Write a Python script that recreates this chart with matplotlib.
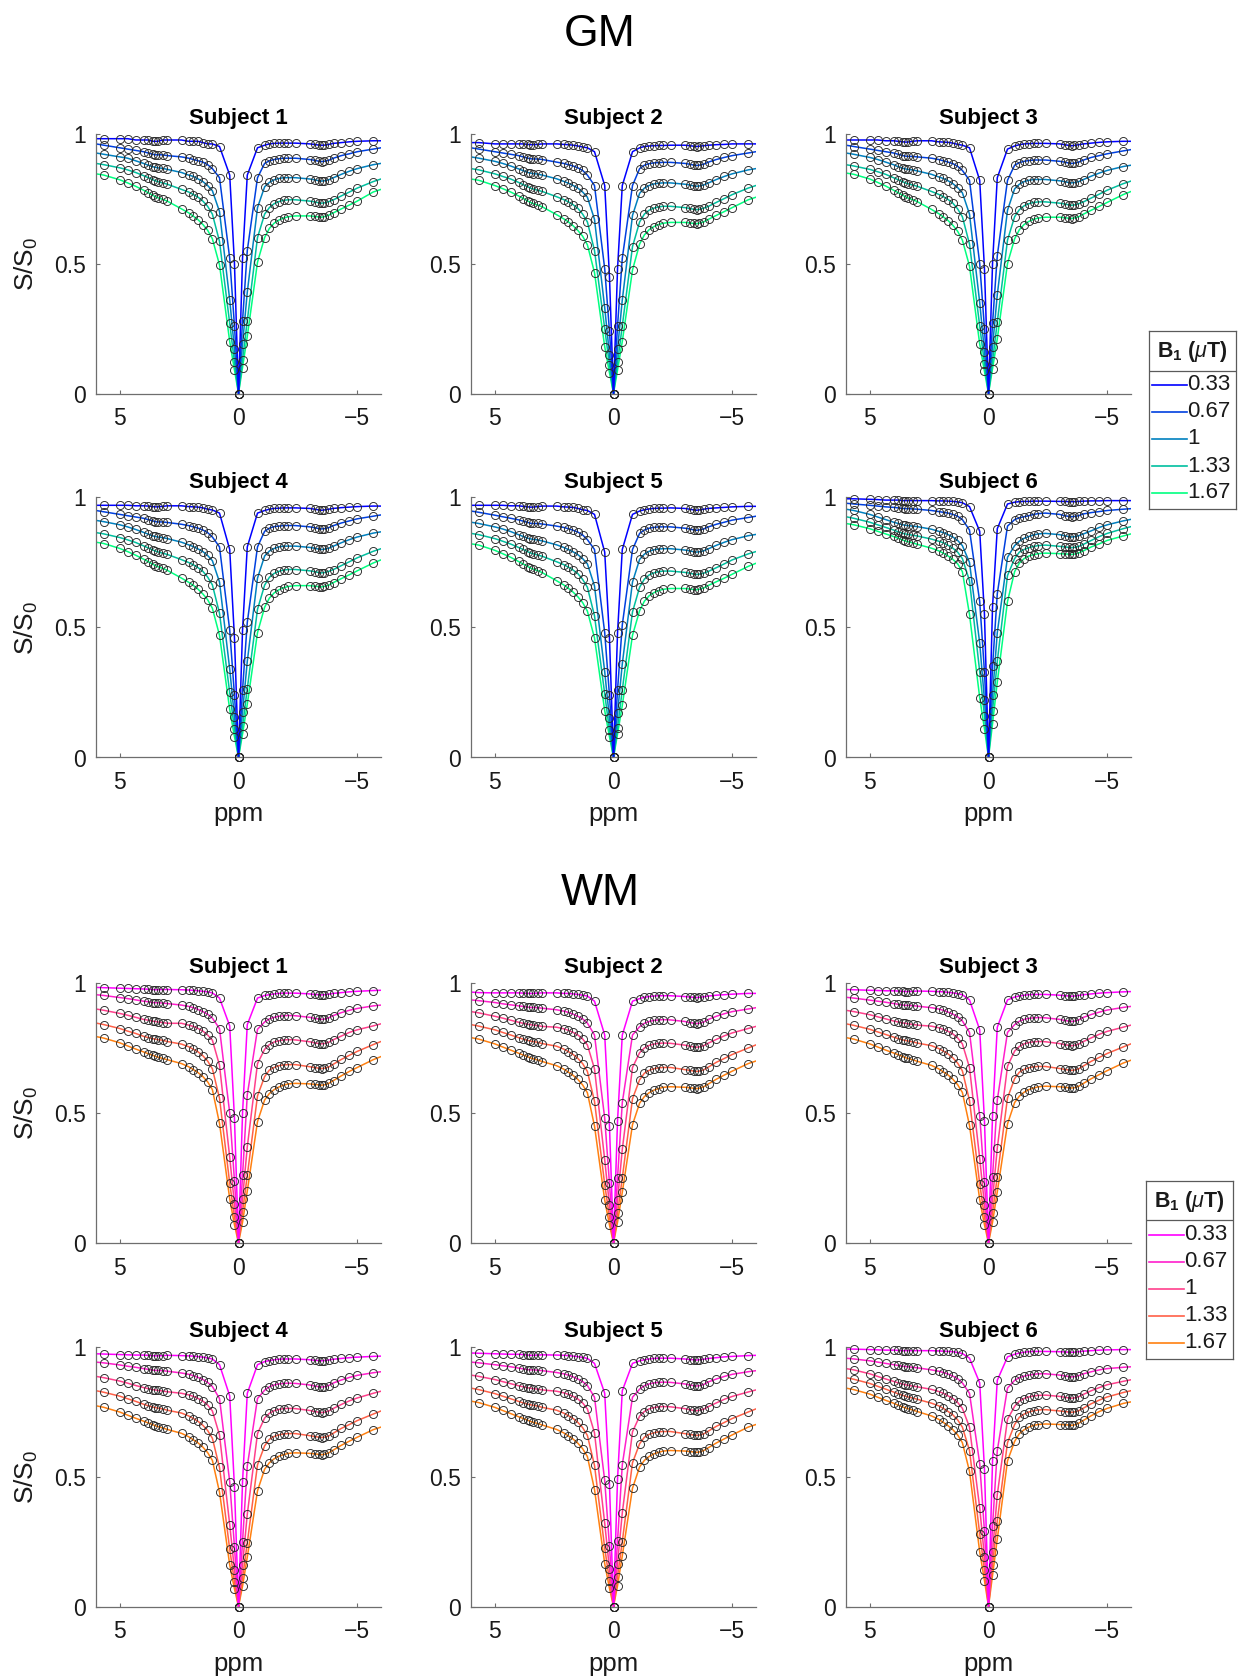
import matplotlib
matplotlib.use("Agg")
import matplotlib.pyplot as plt
import numpy as np

plt.rcParams['font.family'] = ['Liberation Sans', 'DejaVu Sans']
plt.rcParams['mathtext.fontset'] = 'custom'
plt.rcParams['mathtext.rm'] = 'Liberation Sans'
plt.rcParams['mathtext.it'] = 'Liberation Sans:italic'
plt.rcParams['mathtext.bf'] = 'Liberation Sans:bold'

# ---------------- data ----------------
# saturation offsets (ppm); the +/-6 entries are fit-only (no measured point)
OFFSETS_PPM = [6.0, 5.67, 5.0, 4.67, 4.33,
               4.0, 3.8, 3.6, 3.5, 3.4, 3.2, 3.0,
               2.4, 2.1, 1.9, 1.7, 1.5, 1.3, 1.1,
               0.8, 0.37, 0.17, 0.0, -0.17, -0.37, -0.8,
               -1.1, -1.3, -1.5, -1.7, -1.9, -2.1, -2.4,
               -3.0, -3.2, -3.4, -3.5, -3.6, -3.8, -4.0,
               -4.33, -4.67, -5.0, -5.67, -6.0]
B1_LEVELS = ['0.33', '0.67', '1', '1.33', '1.67']
SUBJECTS = ['Subject 1', 'Subject 2', 'Subject 3', 'Subject 4', 'Subject 5', 'Subject 6']
TISSUES = ['GM', 'WM']
X_TICKS = [5, 0, -5]
X_TICK_LABELS = ['5', '0', '\u22125']
Y_TICKS = [0, 0.5, 1]
Y_TICK_LABELS = ['0', '0.5', '1']

# S/S0, one row per B1 level (0.33, 0.67, 1, 1.33, 1.67 uT)
GM_S1 = [
    [.98, .98, .98, .98, .975, .975, .975, .97, .97, .97, .975, .975, .975, .97, .97, .97, .965, .96, .96, .95, .84, .50, 0, .52, .84, .945, .955, .96, .962, .963, .963, .963, .963, .96, .958, .955, .955, .955, .958, .962, .965, .968, .97, .972, .972],
    [.96, .955, .945, .94, .935, .93, .925, .92, .918, .918, .918, .915, .91, .905, .90, .895, .89, .88, .865, .83, .52, .26, 0, .28, .55, .83, .885, .895, .90, .903, .905, .905, .905, .90, .897, .893, .892, .893, .897, .905, .915, .922, .93, .94, .945],
    [.925, .92, .91, .905, .895, .885, .878, .872, .87, .868, .866, .862, .85, .84, .835, .825, .815, .80, .78, .70, .36, .17, 0, .19, .39, .715, .795, .812, .822, .827, .83, .83, .83, .825, .822, .818, .817, .818, .822, .83, .843, .855, .865, .88, .885],
    [.885, .88, .868, .86, .85, .838, .83, .822, .818, .815, .81, .805, .785, .775, .765, .755, .74, .72, .69, .585, .27, .12, 0, .13, .28, .60, .69, .715, .73, .738, .743, .745, .745, .74, .737, .733, .732, .733, .738, .745, .76, .775, .79, .815, .825],
    [.845, .84, .822, .81, .797, .782, .772, .762, .757, .753, .747, .74, .71, .695, .682, .668, .65, .628, .595, .495, .20, .09, 0, .10, .22, .505, .60, .635, .655, .667, .675, .68, .683, .683, .681, .679, .678, .68, .686, .695, .71, .725, .74, .775, .785],
]
GM_S2 = [
    [.965, .965, .96, .96, .96, .96, .96, .958, .957, .957, .958, .96, .96, .958, .957, .955, .952, .948, .945, .93, .80, .45, 0, .48, .80, .93, .945, .95, .952, .953, .954, .954, .955, .955, .953, .951, .95, .951, .953, .955, .957, .958, .96, .96, .96],
    [.945, .94, .93, .925, .92, .915, .91, .905, .903, .902, .902, .90, .89, .885, .88, .875, .868, .858, .84, .80, .48, .24, 0, .26, .52, .80, .865, .878, .884, .887, .888, .889, .889, .885, .882, .878, .877, .878, .882, .89, .90, .908, .915, .925, .93],
    [.91, .905, .893, .885, .875, .864, .857, .85, .848, .846, .844, .84, .826, .816, .809, .80, .79, .775, .755, .67, .33, .15, 0, .17, .36, .685, .77, .79, .80, .806, .809, .81, .81, .805, .802, .798, .797, .798, .802, .81, .823, .835, .845, .86, .865],
    [.865, .86, .845, .835, .825, .812, .803, .795, .79, .787, .782, .777, .757, .746, .737, .726, .712, .69, .66, .55, .25, .11, 0, .12, .26, .565, .66, .69, .705, .713, .718, .72, .72, .715, .712, .708, .707, .708, .713, .72, .735, .75, .765, .79, .80],
    [.825, .82, .80, .788, .775, .76, .75, .74, .735, .731, .725, .718, .688, .672, .66, .645, .627, .605, .572, .465, .18, .08, 0, .09, .20, .475, .575, .61, .63, .642, .65, .655, .658, .658, .656, .654, .653, .655, .66, .67, .685, .70, .715, .745, .755],
]
GM_S3 = [
    [.975, .975, .975, .975, .972, .972, .97, .968, .967, .967, .97, .972, .972, .968, .967, .966, .963, .958, .955, .945, .82, .48, 0, .50, .83, .94, .952, .957, .96, .961, .962, .962, .962, .96, .957, .954, .953, .954, .957, .96, .963, .966, .968, .97, .97],
    [.955, .95, .94, .935, .93, .925, .92, .915, .913, .912, .912, .91, .905, .90, .895, .89, .884, .874, .858, .82, .50, .25, 0, .27, .53, .82, .878, .888, .893, .896, .898, .898, .898, .893, .89, .886, .885, .886, .89, .898, .908, .915, .922, .933, .938],
    [.925, .92, .908, .90, .89, .88, .872, .866, .864, .862, .86, .856, .843, .833, .827, .818, .807, .792, .772, .69, .35, .16, 0, .18, .38, .705, .787, .805, .815, .82, .823, .823, .823, .818, .815, .811, .81, .811, .815, .823, .836, .848, .858, .873, .878],
    [.88, .875, .862, .853, .843, .83, .822, .814, .81, .807, .802, .797, .777, .766, .757, .746, .732, .71, .68, .575, .26, .115, 0, .125, .275, .59, .68, .707, .722, .73, .735, .737, .737, .732, .729, .725, .724, .725, .73, .737, .752, .767, .782, .807, .817],
    [.848, .843, .825, .812, .798, .782, .772, .762, .757, .752, .746, .738, .708, .692, .679, .665, .647, .624, .59, .49, .19, .085, 0, .095, .21, .50, .595, .63, .65, .662, .67, .675, .678, .678, .676, .674, .673, .675, .68, .69, .705, .72, .735, .765, .777],
]
GM_S4 = [
    [.97, .97, .97, .97, .968, .968, .967, .965, .964, .964, .966, .968, .968, .965, .964, .963, .96, .955, .952, .94, .80, .46, 0, .49, .81, .94, .95, .955, .958, .959, .96, .96, .96, .958, .955, .952, .951, .952, .955, .958, .961, .963, .965, .967, .967],
    [.95, .945, .935, .93, .925, .92, .915, .91, .907, .906, .906, .904, .897, .892, .887, .882, .875, .865, .848, .81, .49, .24, 0, .26, .52, .81, .87, .882, .888, .89, .892, .892, .892, .887, .884, .88, .879, .88, .884, .892, .902, .91, .918, .928, .933],
    [.912, .907, .895, .887, .877, .866, .859, .852, .85, .848, .846, .842, .828, .818, .811, .802, .792, .777, .757, .675, .34, .155, 0, .175, .37, .69, .775, .794, .804, .81, .813, .813, .813, .808, .805, .801, .80, .801, .805, .813, .826, .838, .848, .863, .868],
    [.865, .86, .846, .837, .827, .814, .806, .798, .794, .791, .786, .781, .761, .75, .741, .73, .716, .694, .664, .555, .25, .11, 0, .12, .265, .57, .663, .693, .708, .716, .721, .723, .723, .718, .715, .711, .71, .711, .716, .723, .738, .753, .768, .793, .803],
    [.828, .823, .804, .792, .778, .763, .753, .743, .738, .734, .728, .72, .69, .674, .662, .647, .629, .607, .574, .47, .185, .08, 0, .09, .205, .48, .578, .613, .633, .645, .653, .658, .661, .661, .659, .657, .656, .658, .663, .673, .688, .703, .718, .748, .76],
]
GM_S5 = [
    [.97, .97, .97, .97, .968, .968, .966, .964, .963, .963, .965, .967, .967, .964, .963, .962, .958, .953, .95, .935, .79, .46, 0, .48, .80, .935, .948, .953, .956, .958, .959, .959, .96, .958, .955, .952, .951, .952, .955, .958, .96, .962, .964, .966, .966],
    [.948, .943, .932, .926, .92, .914, .909, .904, .901, .90, .90, .898, .89, .885, .88, .874, .867, .856, .838, .80, .48, .24, 0, .26, .51, .80, .862, .875, .882, .885, .887, .887, .887, .882, .879, .875, .874, .875, .879, .887, .897, .905, .913, .923, .928],
    [.905, .90, .887, .879, .869, .857, .85, .843, .841, .839, .837, .833, .818, .808, .80, .791, .78, .765, .745, .66, .33, .15, 0, .17, .36, .675, .762, .782, .793, .799, .802, .803, .803, .798, .795, .791, .79, .791, .795, .803, .816, .828, .838, .853, .858],
    [.862, .857, .842, .832, .821, .808, .80, .791, .787, .784, .779, .774, .753, .742, .732, .721, .707, .685, .655, .545, .245, .105, 0, .115, .26, .56, .655, .686, .702, .71, .715, .717, .717, .712, .709, .705, .704, .705, .709, .716, .73, .745, .76, .783, .792],
    [.822, .817, .797, .784, .77, .754, .744, .734, .729, .725, .719, .711, .68, .664, .651, .636, .618, .596, .563, .46, .18, .08, 0, .09, .20, .47, .565, .601, .622, .634, .642, .647, .65, .65, .648, .646, .645, .647, .652, .662, .676, .69, .705, .735, .747],
]
GM_S6 = [
    [.995, .995, .993, .992, .99, .99, .99, .988, .988, .988, .988, .988, .988, .987, .987, .986, .985, .983, .98, .965, .87, .55, 0, .58, .88, .975, .982, .984, .985, .985, .986, .986, .986, .985, .985, .984, .984, .984, .985, .986, .987, .987, .988, .988, .988],
    [.978, .975, .97, .967, .964, .962, .96, .958, .957, .957, .956, .955, .95, .946, .943, .94, .935, .928, .915, .875, .60, .33, 0, .35, .63, .89, .915, .922, .926, .93, .935, .938, .94, .935, .93, .927, .926, .927, .93, .937, .942, .946, .95, .955, .957],
    [.955, .95, .935, .925, .915, .905, .90, .895, .893, .892, .89, .888, .878, .87, .865, .857, .848, .835, .815, .75, .44, .22, 0, .24, .48, .77, .815, .832, .843, .85, .856, .86, .862, .857, .853, .849, .848, .849, .853, .86, .872, .885, .895, .91, .916],
    [.926, .92, .905, .895, .885, .875, .868, .862, .86, .858, .855, .852, .84, .832, .826, .816, .805, .79, .765, .68, .33, .16, 0, .18, .37, .70, .765, .79, .80, .807, .812, .815, .817, .812, .81, .808, .807, .808, .812, .82, .835, .85, .862, .88, .888],
    [.90, .895, .88, .87, .86, .85, .843, .836, .833, .83, .826, .82, .805, .795, .786, .775, .762, .745, .715, .55, .23, .11, 0, .13, .29, .60, .715, .748, .765, .775, .78, .784, .786, .784, .783, .782, .781, .782, .787, .795, .81, .822, .835, .852, .86],
]
WM_S1 = [
    [.983, .982, .98, .979, .978, .977, .976, .975, .974, .974, .975, .975, .974, .973, .972, .97, .968, .966, .962, .942, .835, .48, 0, .50, .84, .942, .952, .955, .958, .96, .961, .961, .961, .958, .956, .955, .954, .955, .957, .96, .963, .966, .968, .971, .972],
    [.955, .952, .944, .94, .935, .93, .928, .925, .924, .924, .923, .921, .915, .91, .905, .898, .89, .88, .865, .825, .50, .24, 0, .26, .57, .822, .85, .862, .868, .872, .874, .875, .874, .868, .864, .861, .86, .861, .866, .875, .886, .895, .902, .912, .915],
    [.90, .895, .883, .876, .868, .86, .857, .853, .852, .85, .848, .845, .845, .838, .833, .825, .815, .80, .78, .684, .33, .15, 0, .17, .37, .69, .745, .763, .773, .778, .781, .782, .781, .774, .77, .767, .766, .767, .772, .782, .796, .81, .82, .835, .843],
    [.846, .84, .825, .815, .806, .795, .79, .786, .784, .782, .78, .775, .765, .755, .745, .735, .72, .70, .67, .557, .23, .10, 0, .12, .26, .566, .64, .665, .675, .682, .685, .686, .686, .678, .675, .672, .671, .672, .677, .688, .706, .722, .737, .763, .775],
    [.794, .788, .77, .758, .746, .735, .728, .722, .718, .715, .71, .705, .69, .678, .667, .655, .64, .62, .59, .46, .17, .07, 0, .08, .20, .467, .55, .575, .59, .60, .607, .612, .614, .612, .61, .608, .607, .608, .614, .625, .643, .66, .675, .705, .717],
]
WM_S2 = [
    [.965, .963, .962, .962, .962, .962, .961, .96, .96, .96, .961, .962, .962, .96, .96, .958, .956, .953, .95, .93, .80, .45, 0, .47, .80, .93, .94, .945, .948, .95, .951, .951, .951, .948, .946, .945, .944, .945, .947, .95, .953, .955, .957, .96, .96],
    [.935, .932, .925, .92, .916, .912, .91, .907, .906, .906, .905, .903, .897, .892, .887, .88, .872, .862, .846, .80, .48, .23, 0, .25, .54, .80, .832, .845, .852, .856, .858, .859, .858, .852, .848, .845, .844, .845, .85, .86, .872, .882, .89, .90, .905],
    [.89, .885, .872, .865, .857, .849, .845, .841, .84, .838, .836, .833, .83, .824, .818, .81, .80, .785, .762, .67, .32, .145, 0, .165, .36, .675, .732, .75, .76, .765, .768, .769, .768, .761, .757, .754, .753, .754, .759, .769, .783, .797, .808, .825, .833],
    [.84, .834, .82, .81, .80, .79, .784, .779, .777, .775, .772, .767, .757, .746, .736, .725, .71, .69, .66, .545, .225, .10, 0, .115, .25, .555, .628, .653, .664, .67, .674, .675, .675, .667, .664, .661, .66, .661, .666, .677, .695, .71, .725, .75, .762],
    [.79, .784, .766, .754, .742, .73, .723, .716, .712, .709, .704, .698, .682, .669, .657, .645, .629, .608, .578, .45, .165, .07, 0, .08, .195, .455, .538, .563, .578, .588, .594, .599, .601, .599, .597, .595, .594, .595, .601, .612, .63, .646, .661, .69, .70],
]
WM_S3 = [
    [.975, .974, .972, .971, .97, .97, .969, .968, .967, .967, .968, .969, .968, .967, .966, .964, .962, .959, .955, .935, .82, .47, 0, .49, .83, .935, .946, .95, .953, .955, .956, .956, .956, .953, .951, .95, .949, .95, .952, .955, .958, .961, .963, .966, .967],
    [.945, .942, .934, .93, .926, .921, .918, .915, .914, .914, .913, .911, .905, .90, .895, .888, .88, .87, .854, .81, .49, .235, 0, .255, .55, .81, .84, .853, .86, .864, .866, .867, .866, .86, .856, .853, .852, .853, .858, .868, .879, .888, .896, .906, .91],
    [.895, .89, .878, .87, .862, .854, .85, .846, .845, .843, .841, .838, .834, .828, .822, .814, .804, .789, .766, .675, .325, .148, 0, .168, .365, .68, .738, .756, .766, .771, .774, .775, .774, .767, .763, .76, .759, .76, .765, .775, .789, .803, .814, .83, .838],
    [.843, .837, .822, .812, .802, .792, .786, .781, .779, .777, .774, .769, .759, .748, .738, .727, .712, .692, .662, .548, .228, .10, 0, .117, .255, .558, .632, .657, .668, .674, .678, .679, .679, .671, .668, .665, .664, .665, .67, .681, .699, .714, .729, .754, .766],
    [.79, .784, .766, .754, .742, .731, .724, .717, .713, .71, .705, .699, .683, .67, .658, .646, .63, .609, .579, .452, .167, .07, 0, .08, .197, .458, .54, .565, .58, .59, .596, .601, .603, .601, .599, .597, .596, .597, .603, .614, .632, .648, .663, .692, .703],
]
WM_S4 = [
    [.972, .971, .969, .968, .967, .967, .966, .965, .964, .964, .965, .966, .965, .964, .963, .961, .959, .956, .952, .93, .81, .46, 0, .48, .82, .93, .942, .946, .949, .951, .952, .952, .952, .949, .947, .946, .945, .946, .948, .951, .954, .957, .959, .962, .963],
    [.94, .937, .929, .924, .92, .915, .912, .909, .908, .908, .907, .905, .898, .893, .888, .881, .873, .862, .846, .80, .48, .23, 0, .25, .54, .80, .832, .845, .852, .856, .858, .859, .858, .852, .848, .845, .844, .845, .85, .86, .871, .881, .889, .899, .903],
    [.885, .88, .867, .859, .85, .842, .838, .834, .833, .831, .829, .826, .82, .814, .808, .80, .79, .775, .752, .66, .315, .14, 0, .16, .355, .665, .725, .743, .753, .758, .761, .762, .761, .754, .75, .747, .746, .747, .752, .762, .777, .791, .802, .82, .828],
    [.83, .824, .809, .799, .789, .778, .772, .767, .765, .763, .76, .755, .744, .733, .723, .712, .697, .677, .647, .535, .22, .095, 0, .11, .245, .545, .618, .643, .654, .66, .664, .665, .665, .657, .654, .651, .65, .651, .656, .667, .685, .70, .715, .74, .752],
    [.772, .766, .748, .736, .724, .713, .706, .699, .695, .692, .687, .681, .666, .653, .641, .629, .613, .592, .562, .44, .16, .068, 0, .078, .19, .445, .528, .553, .568, .578, .584, .589, .591, .589, .587, .585, .584, .585, .591, .602, .62, .636, .651, .68, .69],
]
WM_S5 = [
    [.975, .974, .972, .971, .97, .97, .969, .967, .966, .966, .967, .968, .967, .966, .965, .963, .961, .958, .954, .935, .82, .47, 0, .49, .83, .935, .945, .949, .952, .954, .955, .955, .955, .952, .95, .949, .948, .949, .951, .954, .957, .96, .962, .965, .966],
    [.94, .937, .93, .926, .922, .917, .914, .911, .91, .91, .909, .907, .90, .895, .89, .883, .875, .865, .85, .805, .485, .232, 0, .252, .545, .805, .836, .849, .856, .86, .862, .863, .862, .856, .852, .849, .848, .849, .854, .864, .875, .885, .893, .903, .907],
    [.89, .885, .873, .865, .857, .849, .845, .841, .84, .838, .836, .833, .828, .822, .816, .808, .798, .783, .76, .668, .32, .145, 0, .165, .36, .672, .732, .75, .76, .765, .768, .769, .768, .761, .757, .754, .753, .754, .759, .769, .783, .797, .808, .825, .833],
    [.84, .834, .819, .809, .799, .789, .783, .778, .776, .774, .771, .766, .755, .744, .734, .723, .708, .688, .658, .543, .225, .10, 0, .115, .25, .553, .626, .651, .662, .668, .672, .673, .673, .665, .662, .659, .658, .659, .664, .675, .693, .708, .723, .748, .76],
    [.79, .784, .766, .754, .742, .73, .723, .716, .712, .709, .704, .698, .681, .668, .656, .644, .628, .607, .577, .45, .165, .07, 0, .08, .195, .455, .537, .562, .577, .587, .593, .598, .60, .598, .596, .594, .593, .594, .60, .611, .629, .645, .66, .69, .70],
]
WM_S6 = [
    [.99, .99, .988, .987, .986, .986, .985, .984, .984, .984, .984, .984, .984, .983, .982, .981, .98, .977, .973, .955, .86, .53, 0, .56, .87, .96, .97, .975, .978, .98, .981, .981, .981, .98, .979, .978, .978, .978, .98, .982, .984, .986, .987, .988, .988],
    [.955, .952, .945, .94, .935, .93, .927, .924, .923, .922, .92, .918, .91, .905, .90, .894, .886, .876, .86, .82, .55, .29, 0, .31, .60, .84, .87, .88, .886, .89, .893, .895, .895, .89, .887, .884, .883, .884, .888, .895, .903, .91, .915, .92, .922],
    [.915, .91, .895, .885, .875, .866, .86, .855, .853, .851, .848, .845, .835, .827, .82, .81, .80, .785, .762, .69, .38, .19, 0, .21, .43, .72, .77, .79, .80, .806, .81, .812, .813, .808, .805, .802, .801, .802, .807, .816, .83, .842, .853, .866, .872],
    [.88, .874, .858, .847, .836, .825, .818, .812, .809, .806, .802, .797, .782, .772, .762, .75, .737, .718, .69, .60, .28, .14, 0, .16, .33, .63, .70, .728, .74, .748, .753, .756, .757, .752, .75, .748, .747, .748, .753, .763, .78, .794, .806, .823, .83],
    [.84, .834, .817, .805, .793, .782, .774, .767, .764, .761, .756, .75, .733, .72, .708, .695, .68, .66, .63, .52, .21, .10, 0, .12, .26, .56, .635, .665, .68, .69, .697, .70, .702, .70, .699, .698, .697, .698, .705, .716, .734, .75, .762, .781, .787],
]

GM_PANELS = [GM_S1, GM_S2, GM_S3, GM_S4, GM_S5, GM_S6]
WM_PANELS = [WM_S1, WM_S2, WM_S3, WM_S4, WM_S5, WM_S6]

GM_COLORS = ['#0000ff', '#0040df', '#0080bf', '#00bf9f', '#00ff80']
WM_COLORS = ['#ff00ff', '#ff1fcc', '#ff408c', '#ff6048', '#ff8010']

# ---------------- layout (pixels) ----------------
W, H = 1240, 1676
fig = plt.figure(figsize=(W / 100, H / 100), dpi=100)

COL_LEFT = [96, 471, 846]
AX_W, AX_H = 285, 260
GROUP_ROW_TOPS = {'GM': [133.5, 497.5], 'WM': [983, 1346.5]}
GROUP_TITLE_BASE = {'GM': 46, 'WM': 905}
LEGEND_BOX = {'GM': (1149, 331.5, 87, 177.5), 'WM': (1146, 1181, 87, 178)}

SPINE_C = '#6e6e6e'
TEXT_C = '#1a1a1a'

x = np.array(OFFSETS_PPM)
measured = np.abs(x) < 5.99


def fig_rect(left, top, w, h):
    return [left / W, 1 - (top + h) / H, w / W, h / H]


for tissue, panels, colors in [('GM', GM_PANELS, GM_COLORS), ('WM', WM_PANELS, WM_COLORS)]:
    fig.text(600 / W, 1 - GROUP_TITLE_BASE[tissue] / H, tissue, ha='center',
             va='baseline', fontsize=32, color='black')
    for k, (name, curves) in enumerate(zip(SUBJECTS, panels)):
        r, c = divmod(k, 3)
        top = GROUP_ROW_TOPS[tissue][r]
        ax = fig.add_axes(fig_rect(COL_LEFT[c], top, AX_W, AX_H))
        for vals, col in list(zip(curves, colors))[::-1]:
            ax.plot(x, vals, color=col, lw=1.1, zorder=2)
        for vals in curves:
            v = np.array(vals)
            ax.plot(x[measured], v[measured], linestyle='none', marker='o',
                    ms=5.8, mfc='none', mec='#262626', mew=0.65,
                    clip_on=False, zorder=3)
        ax.set_xlim(6, -6)
        ax.set_ylim(0, 1)
        ax.set_xticks(X_TICKS)
        ax.set_xticklabels(X_TICK_LABELS)
        ax.set_yticks(Y_TICKS)
        ax.set_yticklabels(Y_TICK_LABELS)
        for s in ['top', 'right']:
            ax.spines[s].set_visible(False)
        for s in ['left', 'bottom']:
            ax.spines[s].set_color(SPINE_C)
            ax.spines[s].set_linewidth(0.9)
        ax.tick_params(axis='both', direction='in', length=3, width=0.8,
                       color=SPINE_C, labelsize=16.5, labelcolor=TEXT_C)
        ax.tick_params(axis='x', pad=10)
        ax.tick_params(axis='y', pad=7)
        ax.set_title(name, fontsize=16, fontweight='bold', pad=7, color='black')
        if c == 0:
            fig.text(26 / W, 1 - (top + AX_H / 2) / H, r'S/S$_0$', rotation=90,
                     ha='center', va='center', fontsize=19, color=TEXT_C)
        if r == 1:
            fig.text((COL_LEFT[c] + AX_W / 2) / W, 1 - (top + AX_H + 64) / H, 'ppm',
                     ha='center', va='baseline', fontsize=18.5, color=TEXT_C)

    # legend box (MATLAB style with title separator)
    lx, ly, lw_, lh = LEGEND_BOX[tissue]
    lax = fig.add_axes(fig_rect(lx, ly, lw_, lh))
    lax.set_xlim(0, lw_)
    lax.set_ylim(lh, 0)
    lax.set_xticks([])
    lax.set_yticks([])
    for s in lax.spines.values():
        s.set_color('#5a5a5a')
        s.set_linewidth(0.9)
    lax.text(lw_ / 2, 20, r'$\mathbf{B_1\ (}\mu\mathbf{T)}$', ha='center', va='center',
             fontsize=15.5, color=TEXT_C)
    lax.axhline(39.3, color='#5a5a5a', lw=0.9)
    for i, (lab, col) in enumerate(zip(B1_LEVELS, colors)):
        yy = 53.5 + i * 27
        lax.plot([3, 38], [yy, yy], color=col, lw=1.2)
        lax.text(38.5, yy, lab, ha='left', va='center', fontsize=16, color=TEXT_C)

fig.savefig('out.png', dpi=100, facecolor='white')
